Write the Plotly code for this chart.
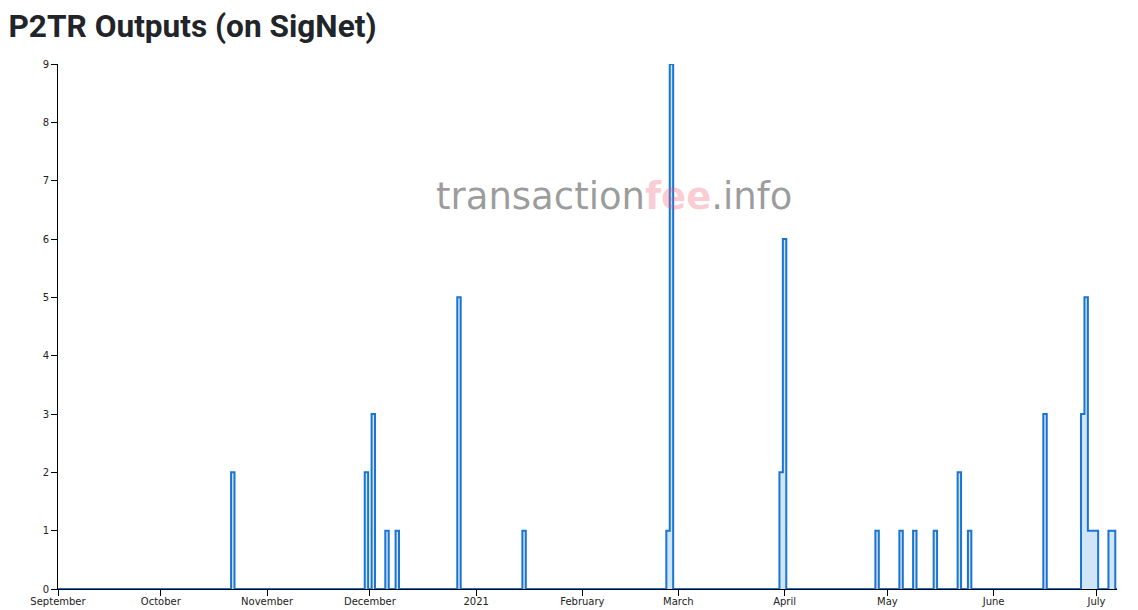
import pandas as pd
import plotly.graph_objects as go

# ---- data ----
start_date = "2020-09-01"
end_date = "2021-07-07"
event_dates = [
    "2020-10-22", "2020-11-30", "2020-12-02", "2020-12-06", "2020-12-09",
    "2020-12-27", "2021-01-15", "2021-02-26", "2021-02-27", "2021-03-31",
    "2021-04-01", "2021-04-28", "2021-05-05", "2021-05-09", "2021-05-15",
    "2021-05-22", "2021-05-25", "2021-06-16", "2021-06-27", "2021-06-28",
    "2021-06-29", "2021-06-30", "2021-07-01", "2021-07-05", "2021-07-06",
]
event_values = [
    2, 2, 3, 1, 1,
    5, 1, 1, 9, 2,
    6, 1, 1, 1, 1,
    2, 1, 3, 3, 5,
    1, 1, 1, 1, 1,
]
tick_dates = ["2020-09-01", "2020-10-01", "2020-11-01", "2020-12-01", "2021-01-01",
              "2021-02-01", "2021-03-01", "2021-04-01", "2021-05-01", "2021-06-01",
              "2021-07-01"]
tick_labels = ["September", "October", "November", "December", "2021",
               "February", "March", "April", "May", "June", "July"]
title_text = "P2TR Outputs (on SigNet)"

# daily series (days without outputs are 0)
days = pd.date_range(start_date, end_date, freq="D")
lookup = dict(zip(pd.to_datetime(event_dates), event_values))
daily = [lookup.get(d, 0) for d in days]

fig = go.Figure()
fig.add_trace(go.Scatter(
    x=days, y=daily,
    mode="lines",
    line=dict(shape="hvh", color="#1a74d2", width=2),
    fill="tozeroy",
    fillcolor="rgba(120,180,235,0.35)",
    hoverinfo="x+y",
    showlegend=False,
))

# page body has an 8px margin; figure sized so it fills the window
OFF = 8
W, H = 1138 - OFF, 610 - OFF
L, R, T, B = 58 - OFF, 21, 64 - OFF, 21

fig.update_layout(
    width=W, height=H,
    margin=dict(l=L, r=R, t=T, b=B, autoexpand=False),
    paper_bgcolor="white",
    plot_bgcolor="white",
    title=dict(
        text="<b>" + title_text + "</b>",
        font=dict(family="Roboto", size=31.6, color="#212529"),
        xref="container", yref="container",
        x=0.5 / W, xanchor="left",
        y=1 - (25.5 - OFF) / H, yanchor="middle",
        pad=dict(l=0, t=0, b=0, r=0),
        automargin=False,
    ),
    xaxis=dict(
        range=[start_date, end_date],
        tickvals=tick_dates, ticktext=tick_labels,
        showgrid=False, zeroline=False,
        showline=True, linecolor="#000", linewidth=1,
        ticks="outside", ticklen=6, tickcolor="#000", tickwidth=1,
        tickfont=dict(family="DejaVu Sans", size=10, color="#222"),
        ticklabelstandoff=-3,
        automargin=False,
    ),
    yaxis=dict(
        range=[0, 9],
        dtick=1,
        showgrid=False, zeroline=False,
        showline=True, linecolor="#000", linewidth=1,
        ticks="outside", ticklen=6, tickcolor="#000", tickwidth=1,
        tickfont=dict(family="DejaVu Sans", size=10, color="#222"),
        automargin=False,
    ),
    annotations=[dict(
        text="transaction<b><span style='color:rgba(240,80,105,0.45)'>fee</span></b>.info",
        xref="paper", yref="paper",
        x=(613.5 - 58) / (W - L - R), y=(589 - 197) / (H - T - B),
        xanchor="center", yanchor="middle",
        showarrow=False,
        font=dict(family="DejaVu Sans", size=37, color="rgba(105,105,105,0.66)"),
    )],
)

fig.write_html("out.html")
